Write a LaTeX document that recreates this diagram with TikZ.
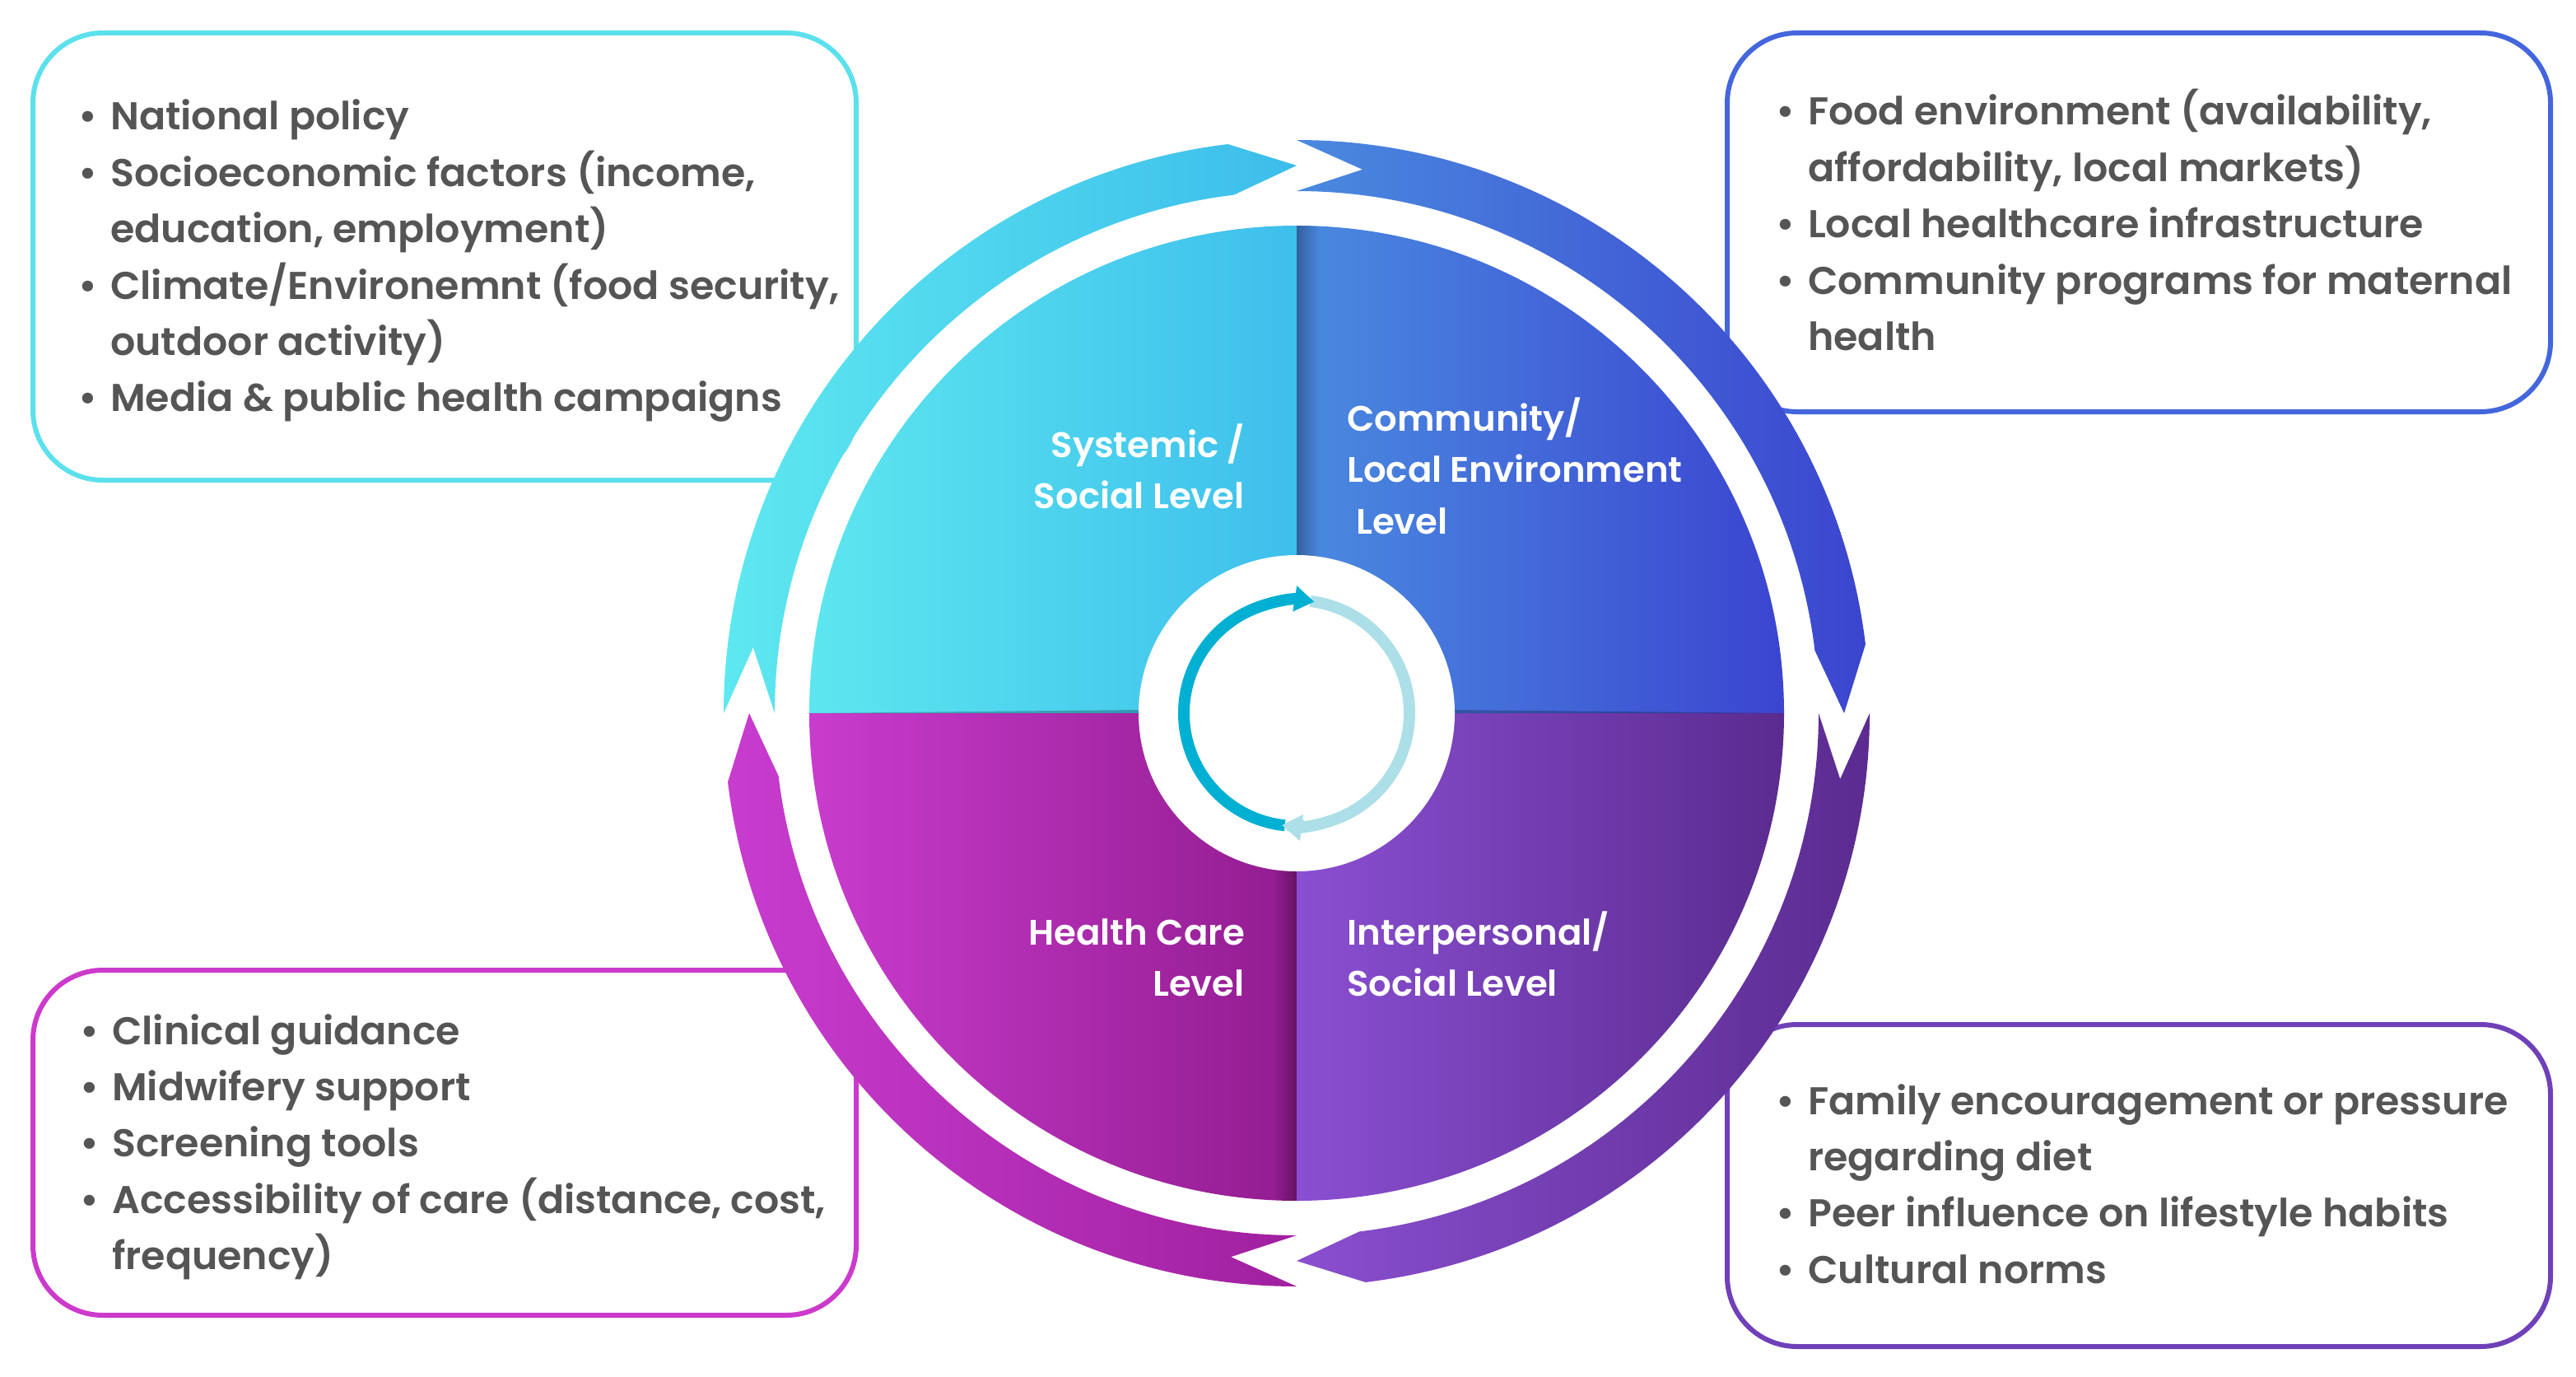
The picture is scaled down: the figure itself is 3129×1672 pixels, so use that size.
\documentclass[tikz,border=0pt]{standalone}
\usepackage{fontspec}
\IfFontExistsTF{Poppins SemiBold}
  {\newfontfamily\pf{Poppins SemiBold}[FakeStretch=1.01]}
  {\IfFontExistsTF{Poppins Medium}
     {\newfontfamily\pf{Poppins Medium}[FakeStretch=1.01]}
     {\newfontfamily\pf{Poppins}[FakeStretch=1.01]}}
\usetikzlibrary{arrows.meta,fadings}
\definecolor{txtgray}{HTML}{555555}
\definecolor{qcyanL}{HTML}{5DE6EF}\definecolor{qcyanR}{HTML}{3EBFEC}
\definecolor{qblueL}{HTML}{4A8BE0}\definecolor{qblueR}{HTML}{3B45D0}
\definecolor{qmagL}{HTML}{C93CCD}\definecolor{qmagR}{HTML}{921C90}
\definecolor{qpurL}{HTML}{8A4FD2}\definecolor{qpurR}{HTML}{5B2B8F}
\definecolor{acyanL}{HTML}{5EE8F0}\definecolor{acyanR}{HTML}{3CBDEB}
\definecolor{ablueL}{HTML}{4A8ADF}\definecolor{ablueR}{HTML}{3B45CF}
\definecolor{apurL}{HTML}{8A4FD0}\definecolor{apurR}{HTML}{5B2B90}
\definecolor{amagL}{HTML}{C83CCF}\definecolor{amagR}{HTML}{A0209F}
\definecolor{bcyan}{HTML}{5CE1EC}\definecolor{bblue}{HTML}{4466DD}
\definecolor{bmag}{HTML}{CC3ACC}\definecolor{bpur}{HTML}{7040B8}
\definecolor{darr}{HTML}{00B0D2}\definecolor{larr}{HTML}{ADDFE8}
\tikzfading[name=fadeR, left color=transparent!0, right color=transparent!100]
\tikzfading[name=fadeL, left color=transparent!100, right color=transparent!0]
\newcommand\bul{\makebox[39pt][l]{\textbullet}}
\newcommand\ind{\hspace*{39pt}}
\tikzset{
  infobox/.style={line width=6pt, fill=white, rounded corners=85pt},
  boxtxt/.style={anchor=base west, inner sep=0pt, text=txtgray,
    font=\pf\fontsize{47}{68.4}\selectfont},
  lvl/.style={inner sep=0pt, text=white, font=\pf\fontsize{43}{62.5}\selectfont},
}
\begin{document}
\begin{tikzpicture}[x=1pt,y=-1pt]
\useasboundingbox (0,0) rectangle (3129,1672);
\fill[white] (0,0) rectangle (3129,1672);

% boxes
\draw[infobox, draw=bcyan] (40,40) rectangle (1040,583);
\draw[infobox, draw=bblue] (2098,40) rectangle (3098,500);
\draw[infobox, draw=bmag] (40,1178) rectangle (1040,1597);
\draw[infobox, draw=bpur] (2098,1244) rectangle (3098,1635);

\node[boxtxt] (tltext) at (95,158) {\begin{tabular}[t]{@{}l@{}}
\bul National policy\\
\bul Socioeconomic factors (income,\\
\ind education, employment)\\
\bul Climate/Environemnt (food security,\\
\ind outdoor activity)\\
\bul Media \& public health campaigns
\end{tabular}};
\node[boxtxt] (trtext) at (2157,152) {\begin{tabular}[t]{@{}l@{}}
\bul Food environment (availability,\\
\ind affordability, local markets)\\
\bul Local healthcare infrastructure\\
\bul Community programs for maternal\\
\ind health
\end{tabular}};
\node[boxtxt] (bltext) at (97,1268) {\begin{tabular}[t]{@{}l@{}}
\bul Clinical guidance\\
\bul Midwifery support\\
\bul Screening tools\\
\bul Accessibility of care (distance, cost,\\
\ind frequency)
\end{tabular}};
\node[boxtxt] (brtext) at (2157,1353) {\begin{tabular}[t]{@{}l@{}}
\bul Family encouragement or pressure\\
\ind regarding diet\\
\bul Peer influence on lifestyle habits\\
\bul Cultural norms
\end{tabular}};

\begin{scope}[shift={(1575,866)}, yscale=-1]
  % outer arcs
  \shade[left color=acyanL, right color=acyanR]
    (180:696) arc[start angle=180, end angle=96.9, radius=696] -- (90:665)
    -- (96.9:634) arc[start angle=96.9, end angle=180, radius=634] -- (173.1:665) -- cycle;
  \shade[left color=ablueL, right color=ablueR]
    (90:696) arc[start angle=90, end angle=6.9, radius=696] -- (0:665)
    -- (6.9:634) arc[start angle=6.9, end angle=90, radius=634] -- (83.1:665) -- cycle;
  \shade[left color=apurL, right color=apurR]
    (0:696) arc[start angle=0, end angle=-83.1, radius=696] -- (-90:665)
    -- (-83.1:634) arc[start angle=-83.1, end angle=0, radius=634] -- (-6.9:665) -- cycle;
  \shade[left color=amagL, right color=amagR]
    (-90:696) arc[start angle=-90, end angle=-173.1, radius=696] -- (-180:665)
    -- (-173.1:634) arc[start angle=-173.1, end angle=-90, radius=634] -- (-96.9:665) -- cycle;
  % quadrants
  \shade[left color=qcyanL, right color=qcyanR] (0,0) -- (90:592) arc[start angle=90, end angle=180, radius=592] -- cycle;
  \shade[left color=qblueL, right color=qblueR] (0,0) -- (0:592) arc[start angle=0, end angle=90, radius=592] -- cycle;
  \shade[left color=qmagL, right color=qmagR] (0,0) -- (180:592) arc[start angle=180, end angle=270, radius=592] -- cycle;
  \shade[left color=qpurL, right color=qpurR] (0,0) -- (270:592) arc[start angle=270, end angle=360, radius=592] -- cycle;
  % folds
  \begin{scope}
    \clip (0,0) circle[radius=592];
    \fill[black, fill opacity=0.3, path fading=fadeR] (0,0) rectangle (28,592);
    \fill[black, fill opacity=0.3, path fading=fadeL] (-28,0) rectangle (0,-592);
    \fill[black, fill opacity=0.25] (-190,0) -- (-592,0) -- (-190,4) -- cycle;
    \fill[black, fill opacity=0.25] (190,0) -- (592,0) -- (190,4) -- cycle;
  \end{scope}
  % inner circle
  \fill[white] (0,0) circle[radius=192];
  % small arrows
  \draw[larr, line width=14pt, -{Triangle[length=24pt, width=30pt]}]
    (83:137) arc[start angle=83, end angle=-97.5, radius=137];
  \draw[darr, line width=14pt, -{Triangle[length=24pt, width=30pt]}]
    (-96:137) arc[start angle=-96, end angle=-279, radius=137];
  \draw[larr, line width=14pt, -{Triangle[length=24pt, width=30pt]}]
    (-86:137) arc[start angle=-86, end angle=-97.5, radius=137];
\end{scope}

% level labels
\node[lvl, anchor=base east] (sys) at (1512,555) {\begin{tabular}[t]{@{}r@{}}Systemic /\\ Social Level\end{tabular}};
\node[lvl, anchor=base west] (com) at (1636,523) {\begin{tabular}[t]{@{}l@{}}Community/\\ Local Environment\\ \hspace*{11pt}Level\end{tabular}};
\node[lvl, anchor=base east] (hc) at (1512,1147) {\begin{tabular}[t]{@{}r@{}}Health Care\\ Level\end{tabular}};
\node[lvl, anchor=base west] (ip) at (1636,1147) {\begin{tabular}[t]{@{}l@{}}Interpersonal/\\ Social Level\end{tabular}};
\end{tikzpicture}
\end{document}
